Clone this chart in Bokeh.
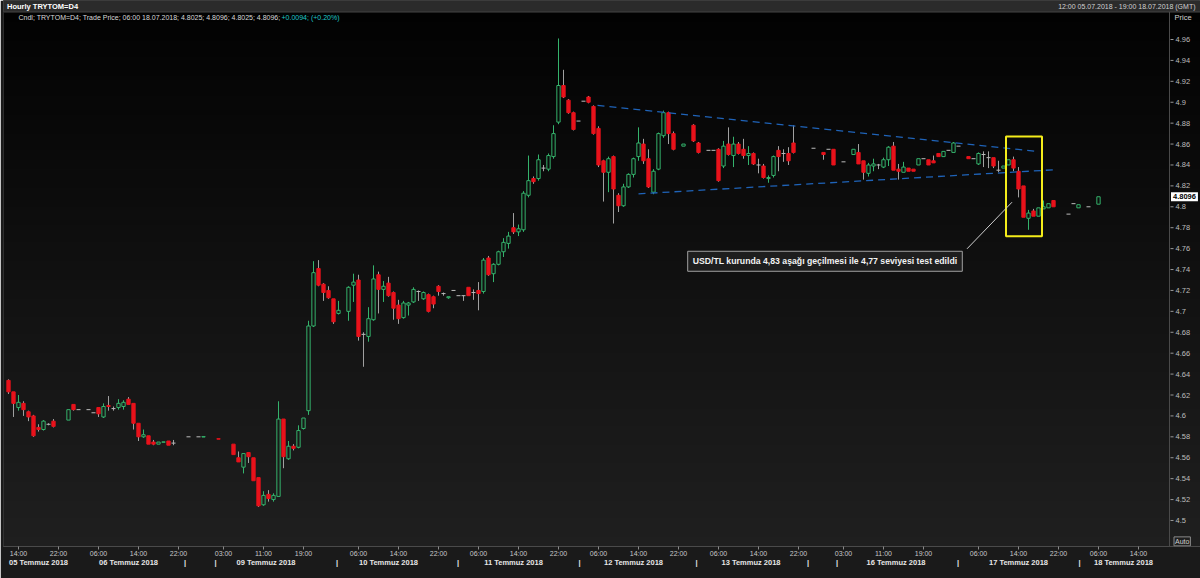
import numpy as np
from bokeh.plotting import figure
from bokeh.models import (Range1d, LinearAxis, FixedTicker, NumeralTickFormatter,
                          Label, ColumnDataSource)
from bokeh.embed import file_html
from bokeh.resources import INLINE

# ---------------- data (hourly trading slots, USD/TRY) ----------------
slot = [0, 1, 2, 3, 4, 5, 6, 7, 8, 9, 12, 13, 14, 16, 17, 18, 19, 20, 21, 22,
        23, 24, 25, 26, 27, 28, 29, 30, 31, 32, 33, 36, 38, 39, 42, 45, 46, 47, 48, 49,
        50, 51, 52, 53, 54, 55, 56, 57, 58, 59, 60, 61, 62, 63, 64, 65, 66, 68, 69, 70,
        71, 72, 73, 74, 75, 76, 77, 78, 79, 80, 81, 82, 83, 84, 85, 86, 87, 88, 89, 90,
        91, 92, 93, 94, 95, 96, 97, 98, 99, 100, 101, 102, 103, 104, 105, 106, 107, 108, 109, 110,
        111, 112, 113, 114, 115, 116, 117, 118, 119, 120, 121, 122, 123, 124, 125, 126, 127, 128, 129, 130,
        131, 132, 133, 135, 137, 138, 140, 141, 142, 143, 144, 145, 146, 147, 148, 149, 150, 151, 152, 153,
        154, 155, 156, 157, 161, 163, 164, 165, 167, 169, 170, 171, 172, 173, 174, 175, 176, 177, 178, 179,
        180, 181, 182, 183, 184, 185, 186, 187, 188, 189, 190, 192, 193, 194, 195, 196, 197, 198, 199, 200,
        201, 202, 203, 204, 205, 206, 207, 208, 209, 212, 213, 214, 216, 218]
open_ = [4.634, 4.623, 4.608, 4.612, 4.604, 4.600, 4.589, 4.587, 4.592, 4.595, 4.596, 4.611, 4.606, 4.606, 4.603, 4.608, 4.599, 4.610, 4.607, 4.608,
         4.609, 4.616, 4.612, 4.593, 4.580, 4.581, 4.575, 4.573, 4.5748, 4.576, 4.574, 4.580, 4.580, 4.5798, 4.5782, 4.573, 4.560, 4.551, 4.565, 4.560,
         4.541, 4.515, 4.525, 4.520, 4.523, 4.597, 4.559, 4.571, 4.570, 4.588, 4.605, 4.686, 4.741, 4.726, 4.720, 4.712, 4.698, 4.700, 4.725, 4.730,
         4.678, 4.676, 4.692, 4.735, 4.721, 4.727, 4.718, 4.706, 4.694, 4.706, 4.709, 4.719, 4.712, 4.716, 4.714, 4.724, 4.717, 4.713, 4.720, 4.715,
         4.715, 4.723, 4.718, 4.720, 4.719, 4.751, 4.736, 4.745, 4.757, 4.765, 4.780, 4.776, 4.778, 4.811, 4.827, 4.827, 4.837, 4.836, 4.848, 4.881,
         4.916, 4.902, 4.890, 4.882, 4.901, 4.905, 4.896, 4.875, 4.844, 4.833, 4.848, 4.811, 4.801, 4.819, 4.831, 4.848, 4.860, 4.846, 4.814, 4.836,
         4.868, 4.890, 4.870, 4.858, 4.878, 4.861, 4.854, 4.854, 4.855, 4.839, 4.860, 4.849, 4.860, 4.855, 4.849, 4.851, 4.840, 4.839, 4.827, 4.830,
         4.854, 4.851, 4.851, 4.861, 4.856, 4.852, 4.855, 4.855, 4.843, 4.850, 4.852, 4.844, 4.832, 4.839, 4.840, 4.838, 4.845, 4.858, 4.836, 4.833,
         4.837, 4.836, 4.840, 4.846, 4.845, 4.844, 4.851, 4.848, 4.854, 4.852, 4.858, 4.848, 4.846, 4.841, 4.850, 4.847, 4.847, 4.835, 4.837, 4.840,
         4.845, 4.834, 4.820, 4.789, 4.796, 4.791, 4.798, 4.799, 4.806, 4.793, 4.803, 4.799, 4.800, 4.8025]
high = [4.635, 4.623, 4.620, 4.614, 4.605, 4.601, 4.592, 4.596, 4.593, 4.597, 4.606, 4.611, 4.606, 4.606, 4.603, 4.608, 4.612, 4.619, 4.609, 4.616,
        4.615, 4.618, 4.612, 4.593, 4.587, 4.581, 4.577, 4.575, 4.5752, 4.576, 4.577, 4.580, 4.580, 4.5802, 4.5782, 4.573, 4.566, 4.564, 4.565, 4.560,
        4.541, 4.528, 4.529, 4.526, 4.614, 4.597, 4.576, 4.573, 4.591, 4.598, 4.691, 4.748, 4.749, 4.727, 4.724, 4.712, 4.710, 4.724, 4.736, 4.735,
        4.680, 4.704, 4.744, 4.738, 4.729, 4.733, 4.719, 4.711, 4.710, 4.709, 4.723, 4.720, 4.719, 4.717, 4.715, 4.725, 4.718, 4.714, 4.720, 4.715,
        4.715, 4.723, 4.721, 4.728, 4.751, 4.753, 4.746, 4.758, 4.770, 4.776, 4.794, 4.783, 4.815, 4.849, 4.829, 4.850, 4.840, 4.851, 4.878, 4.961,
        4.931, 4.903, 4.891, 4.882, 4.901, 4.906, 4.897, 4.877, 4.845, 4.848, 4.849, 4.813, 4.822, 4.832, 4.847, 4.876, 4.865, 4.855, 4.836, 4.871,
        4.892, 4.891, 4.872, 4.860, 4.879, 4.862, 4.854, 4.854, 4.856, 4.863, 4.876, 4.867, 4.862, 4.865, 4.858, 4.852, 4.846, 4.841, 4.830, 4.849,
        4.858, 4.855, 4.857, 4.878, 4.856, 4.852, 4.855, 4.855, 4.843, 4.855, 4.860, 4.844, 4.842, 4.846, 4.841, 4.847, 4.858, 4.862, 4.841, 4.843,
        4.837, 4.836, 4.846, 4.846, 4.845, 4.849, 4.851, 4.853, 4.854, 4.862, 4.858, 4.848, 4.846, 4.852, 4.853, 4.853, 4.847, 4.844, 4.839, 4.845,
        4.848, 4.838, 4.820, 4.797, 4.798, 4.799, 4.806, 4.803, 4.806, 4.793, 4.803, 4.802, 4.800, 4.8096]
low = [4.621, 4.599, 4.605, 4.600, 4.595, 4.580, 4.585, 4.586, 4.591, 4.589, 4.596, 4.605, 4.606, 4.606, 4.603, 4.599, 4.598, 4.605, 4.605, 4.606,
       4.606, 4.611, 4.587, 4.576, 4.579, 4.573, 4.572, 4.573, 4.5748, 4.572, 4.572, 4.580, 4.580, 4.5798, 4.5778, 4.563, 4.556, 4.545, 4.555, 4.538,
       4.513, 4.514, 4.518, 4.518, 4.523, 4.550, 4.558, 4.567, 4.569, 4.587, 4.601, 4.685, 4.724, 4.710, 4.712, 4.688, 4.697, 4.691, 4.709, 4.672,
       4.647, 4.671, 4.691, 4.698, 4.709, 4.714, 4.692, 4.688, 4.693, 4.696, 4.708, 4.710, 4.711, 4.699, 4.703, 4.715, 4.715, 4.712, 4.720, 4.715,
       4.710, 4.715, 4.711, 4.701, 4.717, 4.734, 4.728, 4.744, 4.752, 4.760, 4.774, 4.772, 4.776, 4.809, 4.822, 4.825, 4.834, 4.834, 4.846, 4.879,
       4.904, 4.889, 4.873, 4.882, 4.901, 4.899, 4.869, 4.838, 4.805, 4.814, 4.784, 4.795, 4.800, 4.818, 4.828, 4.844, 4.841, 4.818, 4.812, 4.835,
       4.866, 4.860, 4.854, 4.858, 4.862, 4.851, 4.854, 4.854, 4.824, 4.837, 4.849, 4.838, 4.850, 4.846, 4.840, 4.840, 4.832, 4.827, 4.823, 4.828,
       4.834, 4.843, 4.840, 4.851, 4.856, 4.845, 4.855, 4.840, 4.843, 4.850, 4.841, 4.826, 4.829, 4.834, 4.836, 4.837, 4.839, 4.835, 4.826, 4.833,
       4.834, 4.834, 4.840, 4.846, 4.840, 4.842, 4.848, 4.848, 4.854, 4.852, 4.858, 4.846, 4.846, 4.840, 4.838, 4.837, 4.837, 4.833, 4.837, 4.840,
       4.834, 4.809, 4.790, 4.778, 4.791, 4.791, 4.798, 4.799, 4.800, 4.793, 4.803, 4.799, 4.800, 4.8025]
close = [4.623, 4.612, 4.613, 4.606, 4.599, 4.581, 4.587, 4.595, 4.592, 4.590, 4.606, 4.606, 4.606, 4.606, 4.603, 4.602, 4.609, 4.609, 4.607, 4.612,
         4.613, 4.611, 4.593, 4.580, 4.582, 4.573, 4.573, 4.575, 4.5752, 4.572, 4.574, 4.580, 4.580, 4.5802, 4.5778, 4.563, 4.556, 4.564, 4.561, 4.538,
         4.514, 4.524, 4.521, 4.524, 4.597, 4.561, 4.571, 4.569, 4.586, 4.598, 4.686, 4.737, 4.725, 4.718, 4.713, 4.690, 4.701, 4.723, 4.728, 4.676,
         4.678, 4.693, 4.731, 4.721, 4.724, 4.715, 4.703, 4.693, 4.708, 4.708, 4.721, 4.719, 4.718, 4.700, 4.707, 4.719, 4.717, 4.714, 4.720, 4.715,
         4.715, 4.715, 4.718, 4.717, 4.749, 4.735, 4.745, 4.757, 4.766, 4.772, 4.776, 4.779, 4.813, 4.825, 4.824, 4.845, 4.837, 4.849, 4.870, 4.916,
         4.905, 4.890, 4.874, 4.882, 4.901, 4.900, 4.870, 4.840, 4.833, 4.846, 4.817, 4.801, 4.819, 4.831, 4.846, 4.861, 4.844, 4.819, 4.834, 4.870,
         4.890, 4.870, 4.855, 4.860, 4.863, 4.852, 4.854, 4.854, 4.825, 4.858, 4.850, 4.860, 4.851, 4.849, 4.851, 4.841, 4.840, 4.828, 4.828, 4.848,
         4.848, 4.851, 4.844, 4.852, 4.856, 4.850, 4.855, 4.840, 4.843, 4.855, 4.841, 4.833, 4.840, 4.841, 4.840, 4.845, 4.857, 4.835, 4.834, 4.838,
         4.834, 4.834, 4.846, 4.846, 4.840, 4.842, 4.848, 4.853, 4.854, 4.861, 4.858, 4.846, 4.846, 4.851, 4.850, 4.847, 4.839, 4.835, 4.839, 4.845,
         4.837, 4.817, 4.790, 4.794, 4.791, 4.799, 4.800, 4.803, 4.800, 4.793, 4.803, 4.802, 4.800, 4.8096]

# axis labels
price_ticks = [4.50, 4.52, 4.54, 4.56, 4.58, 4.60, 4.62, 4.64, 4.66, 4.68, 4.70, 4.72,
               4.74, 4.76, 4.78, 4.80, 4.82, 4.84, 4.86, 4.88, 4.90, 4.92, 4.94, 4.96]
time_slots = [2, 10, 18, 26, 34, 43, 51, 59, 70, 78, 86, 94, 102, 110, 118, 126, 134,
              142, 150, 158, 167, 175, 183, 194, 202, 210, 218, 226]
time_labels = ["14:00", "22:00", "06:00", "14:00", "22:00", "03:00", "11:00", "19:00",
               "06:00", "14:00", "22:00", "06:00", "14:00", "22:00", "06:00", "14:00", "22:00",
               "06:00", "14:00", "22:00", "03:00", "11:00", "19:00", "06:00", "14:00", "22:00",
               "06:00", "14:00"]
date_slots = [6, 24, 51.5, 76, 101, 125, 148.5, 177.5, 202, 223]
date_labels = ["05 Temmuz 2018", "06 Temmuz 2018", "09 Temmuz 2018", "10 Temmuz 2018",
               "11 Temmuz 2018", "12 Temmuz 2018", "13 Temmuz 2018", "16 Temmuz 2018",
               "17 Temmuz 2018", "18 Temmuz 2018"]
sep_slots = [35.3, 41.4, 65.7, 89.9, 114.2, 137.6, 159.9, 165.7, 189.9, 214.2]

# drawn annotations (triangle, highlight box, callout)
tri_upper_x = [117.8, 206.0]
tri_upper_y = [4.8969, 4.8529]
tri_lower_x = [126.0, 209.1]
tri_lower_y = [4.8124, 4.8354]
box_lr = [199.5, 206.7]
box_bt = [4.7719, 4.8672]
callout_x = [200.7, 191.7]
callout_y = [4.8044, 4.7598]
note_text = "USD/TL kurunda 4,83 aşağı geçilmesi ile 4,77 seviyesi test edildi"

# ---------------- styling ----------------
GREEN = "#34b36c"
RED = "#e8121b"
GRAY = "#a0a0a0"
FONT = "Liberation Sans"

X0, X1 = -1.0, 238.4      # chart area incl. the price-scale strip
XAX = 232.2               # where the price scale line sits
Y0, Y1 = 4.47511, 4.99730
HDR = 4.9863

p = figure(width=1200, height=578, x_range=Range1d(X0, X1), y_range=Range1d(Y0, Y1),
           y_axis_location="right", toolbar_location=None, output_backend="svg",
           min_border_left=3, min_border_right=0, min_border_top=0, min_border_bottom=32,
           background_fill_color="#0c0c0c", border_fill_color="#1a1a1a",
           outline_line_color="#3a3a3a")
p.grid.visible = False

# gradient background of the chart area
n = 256
grad = np.zeros((n, 1), dtype=np.uint32)
view = grad.view(dtype=np.uint8).reshape((n, 1, 4))
for i in range(n):
    t = i / (n - 1)
    v = int(round(0x1f * (1 - t) + 0x02 * t))
    view[i, 0, :] = [v, v, v, 255]
p.image_rgba(image=[grad], x=X0, y=Y0, dw=X1 - X0, dh=HDR - Y0)

# header bar
p.quad(left=[X0], right=[X1], bottom=[HDR], top=[Y1], fill_color="#2b2b2b", line_color="#444444")

# price scale line and tick dashes
p.segment(x0=[XAX], y0=[Y0], x1=[XAX], y1=[HDR], line_color="#4a4a4a", line_width=1)
p.segment(x0=[XAX + 0.2] * len(price_ticks), y0=price_ticks,
          x1=[XAX + 0.8] * len(price_ticks), y1=price_ticks, line_color="#9a9a9a", line_width=1)

# ---------------- candles ----------------
o = np.array(open_); h = np.array(high); l = np.array(low); c = np.array(close)
x = np.array(slot, dtype=float)
top = np.maximum(o, c); bot = np.minimum(o, c)
up = c > o; dn = c < o; fl = c == o

for mask, wcol in ((up, GREEN), (dn, GRAY), (fl, GRAY)):
    src = ColumnDataSource(dict(x=x[mask], h=h[mask], l=l[mask], t=top[mask], b=bot[mask]))
    p.segment(x0="x", y0="t", x1="x", y1="h", source=src, line_color=wcol, line_width=1)
    p.segment(x0="x", y0="l", x1="x", y1="b", source=src, line_color=wcol, line_width=1)

su = ColumnDataSource(dict(x=x[up], t=top[up], b=bot[up]))
p.vbar(x="x", width=0.66, top="t", bottom="b", source=su, fill_color=None,
       line_color=GREEN, line_width=1)
sd = ColumnDataSource(dict(x=x[dn], t=top[dn], b=bot[dn]))
p.vbar(x="x", width=0.66, top="t", bottom="b", source=sd, fill_color=RED,
       line_color=RED, line_width=1)
sf = ColumnDataSource(dict(x0=x[fl] - 0.4, x1=x[fl] + 0.4, y=c[fl]))
p.segment(x0="x0", y0="y", x1="x1", y1="y", source=sf, line_color="#bdbdbd", line_width=1)

# ---------------- annotations ----------------
p.line(tri_upper_x, tri_upper_y, line_color="#1f63b8", line_dash="7 5", line_width=1.3)
p.line(tri_lower_x, tri_lower_y, line_color="#1f63b8", line_dash="7 5", line_width=1.3)
p.quad(left=[box_lr[0]], right=[box_lr[1]], bottom=[box_bt[0]], top=[box_bt[1]],
       fill_color=None, line_color="#f4ec1a", line_width=2)
p.line(callout_x, callout_y, line_color="#cfcfcf", line_width=1)
p.add_layout(Label(x=163.3, y=4.7479, text=note_text, text_align="center",
                   text_baseline="middle", text_color="#f2f2f2", text_font=FONT,
                   text_font_size="8.7px", text_font_style="bold",
                   background_fill_color="#1e1e1e", border_line_color="#a0a0a0",
                   border_line_width=1, padding=5))

# header texts
p.add_layout(Label(x=-0.3, y=4.9915, text="Hourly TRYTOM=D4", text_align="left",
                   text_baseline="middle", text_color="#ffffff", text_font=FONT,
                   text_font_size="7.5px", text_font_style="bold"))
p.add_layout(Label(x=2.0, y=4.9810,
                   text="Cndl; TRYTOM=D4; Trade Price; 06:00 18.07.2018; 4.8025; 4.8096; 4.8025; 4.8096;",
                   text_align="left", text_baseline="middle", text_color="#d8d8d8",
                   text_font=FONT, text_font_size="7px"))
p.add_layout(Label(x=54.6, y=4.9810, text="+0.0094; (+0.20%)", text_align="left",
                   text_baseline="middle", text_color="#1ec8c8", text_font=FONT,
                   text_font_size="7px"))
p.add_layout(Label(x=237.4, y=4.9915, text="12:00 05.07.2018 - 19:00 18.07.2018 (GMT)",
                   text_align="right", text_baseline="middle", text_color="#d0d0d0",
                   text_font=FONT, text_font_size="7px"))
p.add_layout(Label(x=233.2, y=4.9810, text="Price", text_align="left",
                   text_baseline="middle", text_color="#d0d0d0", text_font=FONT,
                   text_font_size="7.5px"))
p.add_layout(Label(x=232.5, y=close[-1], text=f"{close[-1]:.4f}", text_align="left",
                   text_baseline="middle", text_color="#000000", text_font=FONT,
                   text_font_size="7.5px", text_font_style="bold",
                   background_fill_color="#ffffff", padding=2))
p.add_layout(Label(x=233.1, y=4.4800, text="Auto", text_align="left",
                   text_baseline="middle", text_color="#d0d0d0", text_font=FONT,
                   text_font_size="7px", border_line_color="#8a8a8a", padding=1))

# ---------------- axes ----------------
ya = p.yaxis[0]
ya.ticker = FixedTicker(ticks=price_ticks)
ya.formatter = NumeralTickFormatter(format="0.0[0]")
ya.major_label_text_color = "#bdbdbd"
ya.major_label_text_font = FONT
ya.major_label_text_font_size = "7.5px"
ya.major_tick_out = 0
ya.major_tick_in = 0
ya.minor_tick_out = 0
ya.minor_tick_in = 0
ya.major_tick_line_color = None
ya.minor_tick_line_color = None
ya.axis_line_color = None
ya.major_label_standoff = -25

xa = p.xaxis[0]
xa.ticker = FixedTicker(ticks=time_slots)
xa.major_label_overrides = {s: t for s, t in zip(time_slots, time_labels)}
xa.major_label_text_color = "#c8c8c8"
xa.major_label_text_font = FONT
xa.major_label_text_font_size = "7px"
xa.major_tick_out = 3
xa.major_tick_in = 0
xa.major_tick_line_color = "#8a8a8a"
xa.minor_tick_line_color = None
xa.axis_line_color = "#4a4a4a"
xa.major_label_standoff = 0

da = LinearAxis(ticker=FixedTicker(ticks=date_slots + sep_slots))
ov = {s: t for s, t in zip(date_slots, date_labels)}
ov.update({s: "|" for s in sep_slots})
da.major_label_overrides = ov
da.major_label_text_color = "#e6e6e6"
da.major_label_text_font = FONT
da.major_label_text_font_size = "7.5px"
da.major_label_text_font_style = "bold"
da.axis_line_color = None
da.major_tick_line_color = None
da.minor_tick_line_color = None
da.major_label_standoff = -8
p.add_layout(da, "below")

open("out.html", "w").write(file_html(p, INLINE))
